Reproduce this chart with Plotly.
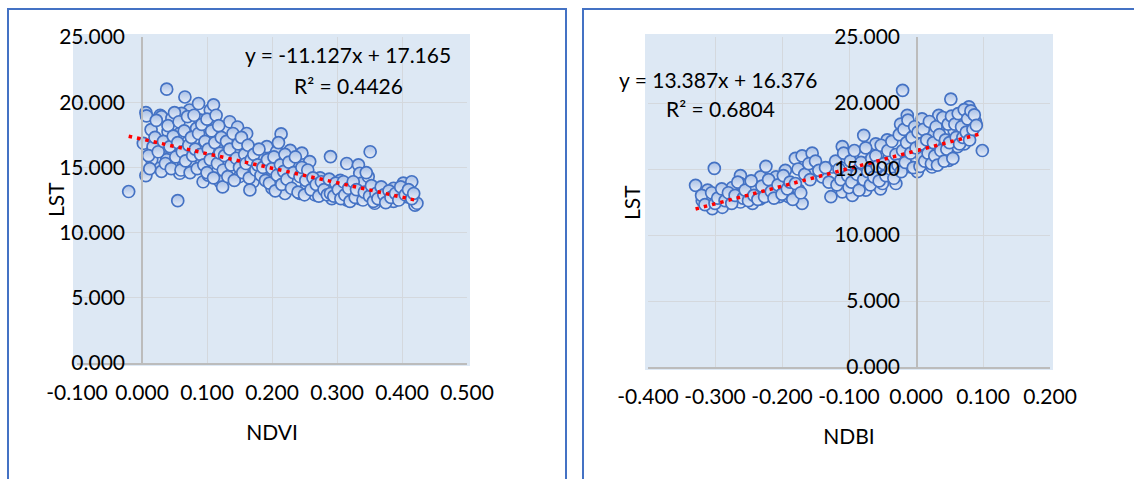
import plotly.graph_objects as go

W, H = 1134, 479

# ---------------- data ----------------
ndvi_pts = [
    (-0.0205, 13.15), (0.038, 21.0), (0.055, 12.45), (0.29, 15.83), (0.351, 16.2), (0.214, 17.57),
    (0.006, 19.2), (0.007, 18.95), (0.006, 14.37), (0.002, 16.85), (0.014, 17.9), (0.028, 19.0),
    (0.03, 18.9), (0.046, 18.77), (0.04, 17.75), (0.058, 17.6), (0.066, 20.4), (0.073, 19.4),
    (0.061, 19.15), (0.087, 19.9), (0.105, 19.4), (0.11, 19.8), (0.089, 18.65), (0.084, 18.0),
    (0.082, 17.25), (0.058, 14.55), (0.064, 15.2), (0.046, 16.1), (0.028, 15.06), (0.023, 15.83),
    (0.017, 16.6), (0.015, 15.6), (0.038, 15.6), (0.092, 15.45), (0.094, 13.9), (0.102, 14.4),
    (0.115, 16.6), (0.117, 14.8), (0.12, 13.9), (0.124, 13.5), (0.13, 18.0), (0.135, 18.5),
    (0.138, 17.1), (0.147, 18.1), (0.143, 16.1), (0.15, 14.3), (0.161, 17.6), (0.171, 13.9),
    (0.166, 13.27), (0.169, 16.3), (0.179, 15.8), (0.187, 15.7), (0.192, 16.6), (0.197, 14.3),
    (0.2, 13.4), (0.207, 16.2), (0.22, 13.0), (0.228, 16.3), (0.246, 16.1), (0.243, 13.0),
    (0.258, 15.45), (0.253, 13.5), (0.266, 12.9), (0.274, 14.2), (0.284, 13.7), (0.292, 12.6),
    (0.305, 14.0), (0.315, 15.3), (0.315, 12.5), (0.333, 15.2), (0.335, 14.55), (0.338, 13.8),
    (0.335, 12.6), (0.348, 14.3), (0.358, 12.25), (0.366, 13.4), (0.371, 12.5), (0.387, 13.4),
    (0.387, 12.4), (0.402, 13.8), (0.415, 13.9), (0.407, 12.75), (0.42, 12.1), (0.423, 12.25),
    (0.010, 15.9), (0.012, 14.9), (0.02, 17.3), (0.022, 18.6), (0.025, 16.2), (0.03, 14.7),
    (0.033, 17.0), (0.036, 15.3), (0.04, 18.2), (0.043, 16.6), (0.045, 14.9), (0.048, 17.4),
    (0.05, 19.2), (0.052, 15.8), (0.055, 16.9), (0.057, 18.5), (0.06, 14.8), (0.062, 16.2),
    (0.065, 17.8), (0.067, 15.5), (0.07, 18.9), (0.072, 16.7), (0.074, 14.6), (0.076, 17.3),
    (0.078, 15.9), (0.08, 19.0), (0.082, 16.4), (0.085, 14.9), (0.087, 17.6), (0.09, 16.0),
    (0.092, 18.3), (0.095, 15.2), (0.097, 17.0), (0.1, 14.6), (0.1, 18.7), (0.102, 16.4),
    (0.105, 15.6), (0.107, 17.8), (0.11, 14.2), (0.112, 16.9), (0.114, 19.0), (0.116, 15.3),
    (0.118, 18.2), (0.12, 16.1), (0.122, 17.3), (0.125, 14.8), (0.127, 15.9), (0.13, 17.0),
    (0.132, 14.3), (0.135, 16.4), (0.137, 15.2), (0.14, 17.6), (0.142, 14.0), (0.145, 15.7),
    (0.148, 16.8), (0.15, 15.0), (0.153, 17.3), (0.155, 14.6), (0.158, 16.0), (0.16, 15.3),
    (0.163, 16.7), (0.165, 14.2), (0.168, 15.6), (0.172, 16.0), (0.175, 14.8), (0.178, 15.2),
    (0.18, 16.4), (0.183, 14.4), (0.186, 15.0), (0.19, 14.0), (0.193, 15.6), (0.196, 13.8),
    (0.2, 14.9), (0.203, 15.8), (0.205, 13.2), (0.208, 14.4), (0.21, 16.9), (0.213, 15.2),
    (0.215, 13.7), (0.218, 14.7), (0.22, 16.0), (0.223, 14.1), (0.226, 15.4), (0.23, 13.4),
    (0.233, 14.6), (0.236, 15.8), (0.24, 13.1), (0.243, 14.3), (0.246, 15.0), (0.25, 12.9),
    (0.252, 14.0), (0.255, 14.8), (0.26, 13.3), (0.263, 14.2), (0.268, 13.7), (0.272, 12.8),
    (0.276, 13.9), (0.28, 13.3), (0.285, 12.9), (0.288, 14.1), (0.29, 13.0), (0.295, 12.8),
    (0.298, 13.8), (0.302, 13.3), (0.306, 12.6), (0.31, 13.9), (0.312, 12.9), (0.318, 13.4),
    (0.32, 12.4), (0.325, 13.9), (0.328, 12.7), (0.33, 13.3), (0.34, 12.5), (0.342, 13.1),
    (0.345, 14.6), (0.35, 12.8), (0.353, 13.6), (0.356, 12.4), (0.36, 13.0), (0.363, 12.6),
    (0.368, 13.5), (0.372, 12.9), (0.375, 12.3), (0.38, 13.2), (0.383, 12.7), (0.39, 13.0),
    (0.395, 12.5), (0.398, 13.5), (0.405, 12.9), (0.41, 13.3), (0.415, 12.6), (0.418, 13.0),
]
ndvi_x = [p[0] for p in ndvi_pts]
ndvi_lst = [p[1] for p in ndvi_pts]

ndbi_pts = [
    (-0.329, 13.76), (-0.311, 13.4), (-0.301, 15.05), (-0.319, 12.6), (-0.304, 12.0), (-0.309, 12.75),
    (-0.294, 13.1), (-0.289, 12.1), (-0.279, 12.9), (-0.274, 13.6), (-0.262, 14.5), (-0.262, 13.9),
    (-0.262, 12.5), (-0.249, 13.3), (-0.244, 12.4), (-0.239, 13.6), (-0.232, 14.4), (-0.232, 12.75),
    (-0.224, 15.2), (-0.224, 13.1), (-0.209, 14.4), (-0.204, 12.9), (-0.195, 14.9), (-0.19, 12.9),
    (-0.18, 15.8), (-0.175, 13.4), (-0.17, 16.0), (-0.17, 12.4), (-0.155, 16.2), (-0.152, 14.8),
    (-0.14, 14.4), (-0.127, 12.9), (-0.125, 15.15), (-0.11, 16.7), (-0.11, 14.65), (-0.11, 13.26),
    (-0.105, 15.9), (-0.095, 13.0), (-0.093, 14.1), (-0.09, 15.3), (-0.078, 17.55), (-0.08, 16.3),
    (-0.075, 13.4), (-0.07, 15.15), (-0.06, 16.9), (-0.053, 13.5), (-0.05, 13.9), (-0.043, 17.2),
    (-0.04, 15.9), (-0.03, 13.9), (-0.023, 18.4), (-0.02, 20.96), (-0.013, 19.07), (-0.01, 17.8),
    (-0.008, 15.15), (0.002, 14.8), (0.004, 16.7), (0.009, 18.8), (0.009, 15.9), (0.022, 17.55),
    (0.024, 15.15), (0.032, 16.9), (0.034, 19.07), (0.039, 18.4), (0.049, 15.65), (0.052, 20.3),
    (0.057, 17.9), (0.062, 16.7), (0.074, 19.3), (0.079, 19.7), (0.072, 16.9), (0.089, 18.55),
    (0.099, 16.4),
    (-0.32, 13.0), (-0.315, 12.3), (-0.305, 13.2), (-0.3, 12.4), (-0.296, 12.8), (-0.29, 13.5),
    (-0.285, 12.6), (-0.28, 13.2), (-0.275, 12.4), (-0.27, 13.0), (-0.266, 14.0), (-0.258, 12.8),
    (-0.255, 13.4), (-0.25, 12.6), (-0.246, 14.1), (-0.242, 13.0), (-0.236, 12.7), (-0.23, 13.7),
    (-0.226, 12.9), (-0.22, 14.2), (-0.216, 13.3), (-0.212, 12.8), (-0.206, 13.8), (-0.2, 13.1),
    (-0.198, 14.5), (-0.192, 13.5), (-0.188, 14.0), (-0.184, 12.7), (-0.18, 13.9), (-0.176, 15.0),
    (-0.172, 13.2), (-0.166, 14.6), (-0.16, 15.4), (-0.158, 14.2), (-0.15, 15.6), (-0.145, 14.9),
    (-0.135, 15.1), (-0.13, 14.0), (-0.12, 15.6), (-0.118, 13.8), (-0.115, 15.0), (-0.112, 14.2),
    (-0.108, 16.2), (-0.102, 14.5), (-0.1, 13.6), (-0.098, 15.6), (-0.096, 14.0), (-0.092, 16.4),
    (-0.088, 14.6), (-0.085, 13.4), (-0.082, 15.5), (-0.078, 14.2), (-0.075, 16.6), (-0.072, 14.8),
    (-0.068, 13.8), (-0.066, 15.8), (-0.063, 14.4), (-0.06, 16.0), (-0.058, 15.2), (-0.055, 14.1),
    (-0.052, 16.8), (-0.048, 15.4), (-0.045, 14.5), (-0.042, 16.4), (-0.038, 15.0), (-0.036, 17.1),
    (-0.033, 14.3), (-0.03, 16.1), (-0.027, 15.3), (-0.025, 17.6), (-0.022, 14.8), (-0.02, 16.4),
    (-0.018, 18.0), (-0.016, 15.5), (-0.014, 17.0), (-0.012, 18.7), (-0.008, 16.2), (-0.006, 17.4),
    (-0.004, 15.1), (-0.002, 18.2), (0.0, 16.6), (0.003, 17.8), (0.006, 15.2), (0.008, 16.9),
    (0.011, 18.0), (0.013, 15.6), (0.016, 17.2), (0.018, 16.2), (0.02, 18.6), (0.023, 15.4),
    (0.026, 17.0), (0.028, 16.0), (0.03, 18.2), (0.032, 15.3), (0.035, 17.6), (0.037, 16.4),
    (0.04, 18.9), (0.042, 15.6), (0.044, 17.2), (0.046, 16.5), (0.048, 18.4), (0.05, 17.0),
    (0.053, 19.0), (0.055, 15.8), (0.058, 18.4), (0.06, 17.4), (0.063, 19.2), (0.065, 16.9),
    (0.068, 18.2), (0.07, 17.4), (0.072, 19.5), (0.075, 17.8), (0.077, 18.8), (0.08, 17.2),
    (0.082, 19.4), (0.085, 18.0), (0.087, 19.1), (0.09, 18.3),
]
ndbi_x = [p[0] for p in ndbi_pts]
ndbi_lst = [p[1] for p in ndbi_pts]

# trendline coefficients as printed on the chart
ndvi_slope, ndvi_icpt, ndvi_r2 = -11.127, 17.165, 0.4426
ndbi_slope, ndbi_icpt, ndbi_r2 = 13.387, 16.376, 0.6804

ndvi_ticks = [-0.1, 0.0, 0.1, 0.2, 0.3, 0.4, 0.5]
ndbi_ticks = [-0.4, -0.3, -0.2, -0.1, 0.0, 0.1, 0.2]
lst_ticks = [0, 5, 10, 15, 20, 25]

# ---------------- styling ----------------
FONT = "Lato"
FS = 21
BG = "#dde8f4"
GRID = "#d4d8dd"
AXIS = "#bcbcbc"
EDGE = "#4472c4"

def px_x(p):
    return p / W

def px_y(p):
    return 1 - p / H

marker = dict(size=12, color="#a9c0e6",
              gradient=dict(type="vertical", color="#e6edf8"),
              line=dict(color=EDGE, width=1.7))

fig = go.Figure()

fig.add_trace(go.Scatter(x=ndvi_x, y=ndvi_lst, mode="markers", marker=marker,
                         xaxis="x", yaxis="y", showlegend=False, hoverinfo="x+y"))
xl = [min(ndvi_x), max(ndvi_x)]
fig.add_trace(go.Scatter(x=xl, y=[ndvi_slope * v + ndvi_icpt for v in xl], mode="lines",
                         line=dict(color="#ff0000", width=3.5, dash="3.5px,5px"),
                         xaxis="x", yaxis="y", showlegend=False, hoverinfo="skip"))

fig.add_trace(go.Scatter(x=ndbi_x, y=ndbi_lst, mode="markers", marker=marker,
                         xaxis="x2", yaxis="y2", showlegend=False, hoverinfo="x+y"))
xr = [min(ndbi_x), max(ndbi_x)]
fig.add_trace(go.Scatter(x=xr, y=[ndbi_slope * v + ndbi_icpt for v in xr], mode="lines",
                         line=dict(color="#ff0000", width=3.5, dash="3.5px,5px"),
                         xaxis="x2", yaxis="y2", showlegend=False, hoverinfo="skip"))

tickfont = dict(family=FONT, size=FS, color="#000000")

def xaxis(dom, ticks, title, anchor):
    return dict(domain=dom, range=[ticks[0], ticks[-1]], tickvals=ticks,
                ticktext=[f"{t:.3f}" for t in ticks], tickfont=tickfont,
                showgrid=True, gridcolor=GRID, gridwidth=1, zeroline=False,
                showline=True, linecolor=AXIS, linewidth=1.5, ticks="",
                ticklabelstandoff=10, anchor=anchor, automargin=False,
                title=dict(text=title, font=tickfont, standoff=22))

def yaxis(dom, pos):
    return dict(domain=dom, range=[0, 25], tickvals=lst_ticks,
                ticktext=[f"{t:.3f}" for t in lst_ticks], tickfont=tickfont,
                showgrid=True, gridcolor=GRID, gridwidth=1, zeroline=False,
                showline=True, linecolor=AXIS, linewidth=1.5, ticks="",
                anchor="free", position=pos, automargin=False,
                ticklabelstandoff=12)

L_x = [px_x(77), px_x(467)]
L_y = [px_y(363), px_y(37)]
R_x = [px_x(648), px_x(1050)]
R_y = [px_y(367), px_y(37)]

fig.update_layout(
    width=W, height=H, margin=dict(l=0, r=0, t=0, b=0, autoexpand=False),
    paper_bgcolor="#ffffff", plot_bgcolor=BG,
    font=dict(family=FONT, size=FS, color="#000000"),
    xaxis=xaxis(L_x, ndvi_ticks, "NDVI", "y"),
    yaxis=yaxis(L_y, px_x(142)),
    xaxis2=xaxis(R_x, ndbi_ticks, "NDBI", "y2"),
    yaxis2=yaxis(R_y, px_x(917)),
)

shapes = [
    dict(type="rect", xref="paper", yref="paper", x0=px_x(73), x1=px_x(470), y0=px_y(366), y1=px_y(34),
         fillcolor=BG, line=dict(width=0), layer="below"),
    dict(type="rect", xref="paper", yref="paper", x0=px_x(645), x1=px_x(1053), y0=px_y(370), y1=px_y(34),
         fillcolor=BG, line=dict(width=0), layer="below"),
    dict(type="rect", xref="paper", yref="paper", x0=px_x(8), x1=px_x(566), y0=-0.1, y1=px_y(9),
         fillcolor="rgba(0,0,0,0)", line=dict(color=EDGE, width=2), layer="below"),
    dict(type="rect", xref="paper", yref="paper", x0=px_x(583), x1=1.2, y0=-0.1, y1=px_y(9),
         fillcolor="rgba(0,0,0,0)", line=dict(color=EDGE, width=2), layer="below"),
]
fig.update_layout(shapes=shapes)

ann_font = dict(family=FONT, size=FS, color="#000000")
fig.update_layout(annotations=[
    dict(xref="paper", yref="paper", x=px_x(348), y=px_y(55), xanchor="center", yanchor="middle",
         text=f"y = {ndvi_slope:.3f}x + {ndvi_icpt:.3f}", showarrow=False, font=ann_font),
    dict(xref="paper", yref="paper", x=px_x(348), y=px_y(85), xanchor="center", yanchor="middle",
         text=f"R² = {ndvi_r2:.4f}", showarrow=False, font=ann_font),
    dict(xref="paper", yref="paper", x=px_x(718), y=px_y(79), xanchor="center", yanchor="middle",
         text=f"y = {ndbi_slope:.3f}x + {ndbi_icpt:.3f}", showarrow=False, font=ann_font),
    dict(xref="paper", yref="paper", x=px_x(720), y=px_y(109), xanchor="center", yanchor="middle",
         text=f"R² = {ndbi_r2:.4f}", showarrow=False, font=ann_font),
    dict(xref="paper", yref="paper", x=px_x(55), y=px_y(200), xanchor="center", yanchor="middle",
         text="LST", textangle=-90, showarrow=False, font=ann_font),
    dict(xref="paper", yref="paper", x=px_x(632), y=px_y(203), xanchor="center", yanchor="middle",
         text="LST", textangle=-90, showarrow=False, font=ann_font),
])

fig.write_html("out.html", config={"displayModeBar": False},
               post_script="document.body.style.margin='0';document.body.style.overflow='hidden';")
